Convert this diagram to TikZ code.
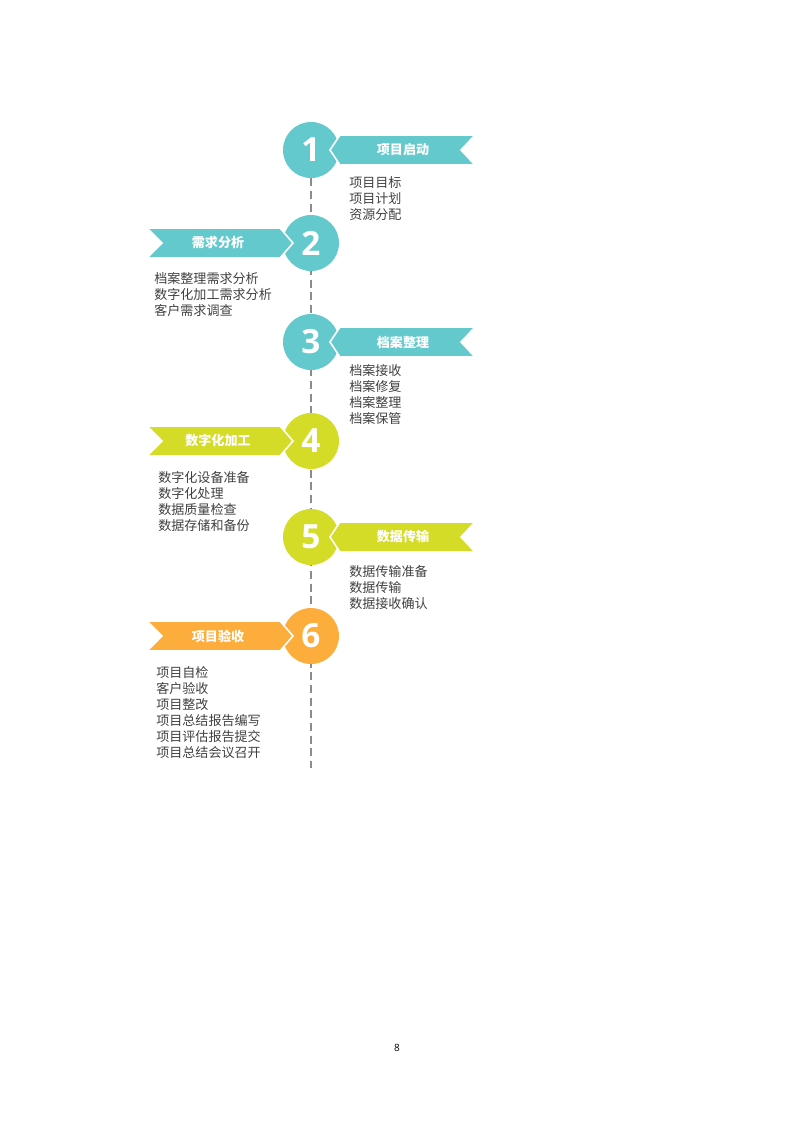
\documentclass[tikz,border=0pt]{standalone}
\usepackage{fontspec}
\newfontfamily\cjk{Noto Sans CJK SC}
\newfontfamily\numfont{Open Sans}
\usetikzlibrary{backgrounds,calc}

\definecolor{stepteal}{HTML}{64C9CC}
\definecolor{stepgreen}{HTML}{D4DC27}
\definecolor{steporange}{HTML}{FDAD3B}
\definecolor{listgray}{HTML}{404040}
\definecolor{linegray}{HTML}{8C8C8C}

\begin{document}
\begin{tikzpicture}[x=0.75pt,y=-0.75pt,
    stepdot/.style={circle, fill=#1, minimum size=42pt, inner sep=0pt, text=white,
      font=\numfont\bfseries\fontsize{25}{25}\selectfont},
    flag/.style={fill=#1, draw=white, line width=1.2pt, line join=miter},
    flagtext/.style={inner sep=0pt, text=white, font=\cjk\bfseries\fontsize{9.8}{12}\selectfont},
    itemlist/.style={anchor=north west, align=left, inner sep=0pt, text=listgray,
      font=\cjk\fontsize{9.8}{12}\selectfont},
    timeline/.style={linegray, line width=1.4pt, dash pattern=on 6pt off 3.5pt}]
  % Page size in pixels
  \useasboundingbox (0,0) rectangle (793,1122);

  % Define the end of the time line
  \coordinate (lineend) at (311,768);

  % Draw the step circles
  \node[stepdot=stepteal] (s1) at (311,150) {1};
  \node[stepdot=stepteal] (s2) at (311,243) {2};
  \node[stepdot=stepteal] (s3) at (311,342) {3};
  \node[stepdot=stepgreen] (s4) at (311,441) {4};
  \node[stepdot=stepgreen] (s5) at (311,537) {5};
  \node[stepdot=steporange] (s6) at (311,636) {6};

  % Draw the time line behind the circles
  \begin{scope}[on background layer]
    \draw[timeline] (s1.south) -- (lineend);
  \end{scope}

  % Flags on the right
  \path[flag=stepteal, shift={(s1.center)}] (19,0) -- (29,-15) -- (164,-15) -- (150,0) -- (164,15) -- (29,15) -- cycle;
  \path[flag=stepteal, shift={(s3.center)}] (19,0) -- (29,-15) -- (164,-15) -- (150,0) -- (164,15) -- (29,15) -- cycle;
  \path[flag=stepgreen, shift={(s5.center)}] (19,0) -- (29,-15) -- (164,-15) -- (150,0) -- (164,15) -- (29,15) -- cycle;

  % Flags on the left
  \path[flag=stepteal, shift={(s2.center)}] (-18,0) -- (-31,-15) -- (-164,-15) -- (-149,0) -- (-164,15) -- (-31,15) -- cycle;
  \path[flag=stepgreen, shift={(s4.center)}] (-18,0) -- (-31,-15) -- (-164,-15) -- (-149,0) -- (-164,15) -- (-31,15) -- cycle;
  \path[flag=steporange, shift={(s6.center)}] (-18,0) -- (-31,-15) -- (-164,-15) -- (-149,0) -- (-164,15) -- (-31,15) -- cycle;

  % Flag labels
  \node[flagtext] (f1) at ($(s1)+(92,0)$) {项目启动};
  \node[flagtext] (f2) at ($(s2)+(-93,0)$) {需求分析};
  \node[flagtext] (f3) at ($(s3)+(92,0)$) {档案整理};
  \node[flagtext] (f4) at ($(s4)+(-93,0)$) {数字化加工};
  \node[flagtext] (f5) at ($(s5)+(92,0)$) {数据传输};
  \node[flagtext] (f6) at ($(s6)+(-93,0)$) {项目验收};

  % Task lists
  \node[itemlist] (l1) at (349,176) {项目目标\\项目计划\\资源分配};
  \node[itemlist] (l2) at (154,272) {档案整理需求分析\\数字化加工需求分析\\客户需求调查};
  \node[itemlist] (l3) at (349,364) {档案接收\\档案修复\\档案整理\\档案保管};
  \node[itemlist] (l4) at (158,471) {数字化设备准备\\数字化处理\\数据质量检查\\数据存储和备份};
  \node[itemlist] (l5) at (349,565) {数据传输准备\\数据传输\\数据接收确认};
  \node[itemlist] (l6) at (156,666) {项目自检\\客户验收\\项目整改\\项目总结报告编写\\项目评估报告提交\\项目总结会议召开};

  % Page number
  \node[font=\numfont\fontsize{7.5}{9}\selectfont] (pagenum) at (397,1048) {8};
\end{tikzpicture}
\end{document}
